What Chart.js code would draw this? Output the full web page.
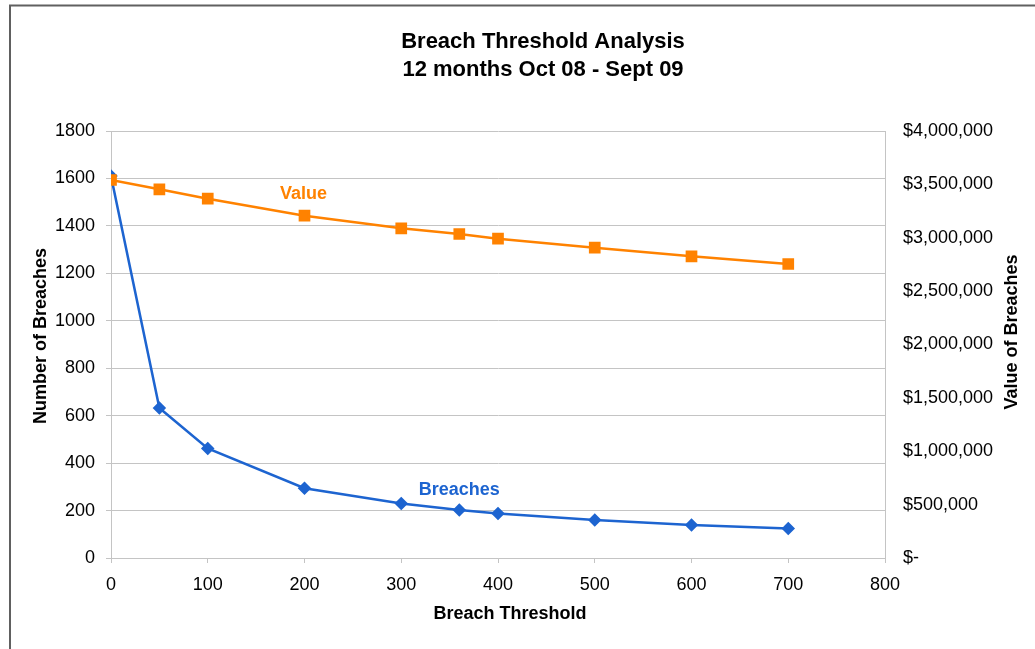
<!DOCTYPE html>
<html>
<head>
<meta charset="utf-8">
<script src="https://cdn.jsdelivr.net/npm/chart.js@4"></script>
<style>
  html, body { margin: 0; padding: 0; background: #fff; }
  canvas { display: block; }
</style>
</head>
<body>
<canvas id="breachChart" width="1035" height="649"></canvas>
<script>
// data
var thresholds = [0, 50, 100, 200, 300, 360, 400, 500, 600, 700];
var breachCounts = [1610, 632, 462, 294, 230, 202, 188, 160, 139, 124];
var breachValues = [3541000, 3454000, 3366000, 3207000, 3088000, 3035000, 2991000, 2907000, 2826000, 2754000];
var titleLines = ['Breach Threshold Analysis', '12 months Oct 08 - Sept 09'];

var FONT = '"Liberation Sans", Arial, sans-serif';
var BLUE = '#1d64d0';
var ORANGE = '#ff8200';
var GRID = '#c4c4c4';

function toPoints(xs, ys) {
    return xs.map(function(x, i) { return { x: x, y: ys[i] }; });
}

function money(v) {
    if (v === 0) return '$-';
    return '$' + v.toLocaleString('en-US');
}

// title, axis titles, series labels and the frame line are drawn here
var extraText = {
    id: 'extraText',
    afterDraw: function(chart) {
        var c = chart.ctx;
        var xs = chart.scales.x, ys = chart.scales.y, y1 = chart.scales.y1;
        c.save();
        c.fillStyle = '#000';
        c.textAlign = 'center';
        c.textBaseline = 'middle';

        c.font = 'bold 22px ' + FONT;
        c.fillText(titleLines[0], 543, 42);
        c.fillText(titleLines[1], 543, 70);

        c.font = 'bold 18px ' + FONT;
        c.fillText('Breach Threshold', 510, 614);

        c.save();
        c.translate(41, 336);
        c.rotate(-Math.PI / 2);
        c.fillText('Number of Breaches', 0, 0);
        c.restore();

        c.save();
        c.translate(1012, 332);
        c.rotate(-Math.PI / 2);
        c.fillText('Value of Breaches', 0, 0);
        c.restore();

        c.fillStyle = ORANGE;
        c.fillText('Value', xs.getPixelForValue(199), y1.getPixelForValue(3410000));
        c.fillStyle = BLUE;
        c.fillText('Breaches', xs.getPixelForValue(360), ys.getPixelForValue(287));

        // frame
        c.strokeStyle = '#606060';
        c.lineWidth = 2;
        c.beginPath();
        c.moveTo(10, 649);
        c.lineTo(10, 5.5);
        c.lineTo(1035, 5.5);
        c.stroke();
        c.restore();
    }
};

var ctx = document.getElementById('breachChart').getContext('2d');

var breachChart = new Chart(ctx, {
    type: 'line',
    data: {
        datasets: [{
            label: 'Breaches',
            data: toPoints(thresholds, breachCounts),
            yAxisID: 'y',
            borderColor: BLUE,
            backgroundColor: BLUE,
            borderWidth: 2.5,
            pointStyle: 'rectRot',
            pointRadius: 5,
            tension: 0,
            order: 2
        }, {
            label: 'Value',
            data: toPoints(thresholds, breachValues),
            yAxisID: 'y1',
            borderColor: ORANGE,
            backgroundColor: ORANGE,
            borderWidth: 2.5,
            pointStyle: 'rect',
            pointRadius: 6.5,
            tension: 0,
            order: 1
        }]
    },
    options: {
        responsive: false,
        animation: false,
        layout: { padding: { top: 131 } },
        plugins: {
            legend: { display: false },
            tooltip: { enabled: false },
            title: { display: false }
        },
        scales: {
            x: {
                type: 'linear',
                min: 0,
                max: 800,
                ticks: { stepSize: 100, color: '#000', font: { family: FONT, size: 18 }, padding: 11 },
                grid: { drawOnChartArea: false, drawTicks: true, tickLength: 5, color: GRID },
                border: { color: GRID },
                afterFit: function(scale) { scale.height = 91; }
            },
            y: {
                position: 'left',
                min: 0,
                max: 1800,
                ticks: {
                    stepSize: 200,
                    color: '#000',
                    font: { family: FONT, size: 18 },
                    padding: 11,
                    callback: function(v) { return String(v); }
                },
                grid: { color: GRID, tickLength: 5 },
                border: { color: GRID },
                afterFit: function(scale) { scale.width = 111; }
            },
            y1: {
                position: 'right',
                min: 0,
                max: 4000000,
                ticks: {
                    stepSize: 500000,
                    color: '#000',
                    font: { family: FONT, size: 18 },
                    padding: 18,
                    callback: function(v) { return money(v); }
                },
                grid: { drawOnChartArea: false, drawTicks: false },
                border: { color: GRID },
                afterFit: function(scale) { scale.width = 150; }
            }
        }
    },
    plugins: [extraText]
});
</script>
</body>
</html>
